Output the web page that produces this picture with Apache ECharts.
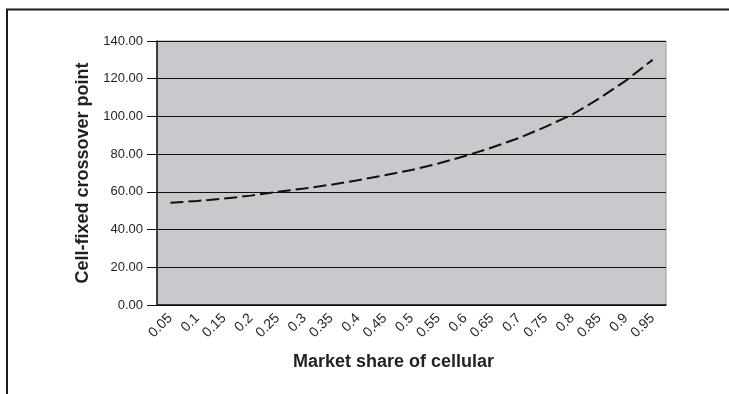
<!DOCTYPE html>
<html>
<head>
<meta charset="utf-8">
<script src="https://cdn.jsdelivr.net/npm/echarts@6/dist/echarts.min.js"></script>
<style>
html,body{margin:0;padding:0;background:#fff;}
#c{width:729px;height:394px;}
</style>
</head>
<body>
<div id="c"></div>
<script>
const categories = ['0.05','0.1','0.15','0.2','0.25','0.3','0.35','0.4','0.45','0.5','0.55','0.6','0.65','0.7','0.75','0.8','0.85','0.9','0.95'];
const crossover = [54.2,55.2,56.4,58.0,60.0,61.8,63.8,66.2,68.8,71.6,75.0,79.0,83.5,88.5,94.5,101.0,109.5,119.0,130.0];
const yTicks = {min: 0, max: 140, interval: 20};
const xTitle = 'Market share of cellular';
const yTitle = 'Cell-fixed crossover point';

const FONT = '"Liberation Sans", Arial, sans-serif';
const TXT = '#231F20';
const chart = echarts.init(document.getElementById('c'), null, {renderer: 'canvas'});
chart.setOption({
  animation: false,
  backgroundColor: '#fff',
  textStyle: {fontFamily: FONT},
  graphic: [{
    type: 'rect', silent: true, z: 100,
    shape: {x: 7, y: 9.5, width: 760, height: 420},
    style: {fill: 'none', stroke: '#1a1a1a', lineWidth: 2}
  }],
  grid: {
    left: 157, top: 41, right: 63, bottom: 89,
    show: true, backgroundColor: '#C8C9CD', borderColor: '#999', borderWidth: 1
  },
  xAxis: {
    type: 'category',
    data: categories,
    boundaryGap: true,
    axisLine: {lineStyle: {color: '#111', width: 1.5}},
    axisTick: {show: false},
    axisLabel: {rotate: 45, fontSize: 14, color: TXT, fontFamily: FONT, margin: 11, interval: 0},
    name: xTitle,
    nameLocation: 'middle',
    nameGap: 48,
    nameTextStyle: {fontSize: 18, fontWeight: 'bold', color: TXT, fontFamily: FONT, padding: [0, 36, 0, 0]}
  },
  yAxis: {
    type: 'value',
    min: yTicks.min, max: yTicks.max, interval: yTicks.interval,
    axisLine: {show: true, lineStyle: {color: '#111', width: 1.5}},
    axisTick: {show: true, length: 10, lineStyle: {color: '#111'}},
    axisLabel: {fontSize: 13, color: TXT, fontFamily: FONT, margin: 14, formatter: v => v.toFixed(2)},
    splitLine: {show: true, lineStyle: {color: '#111', width: 1.2}},
    name: yTitle,
    nameLocation: 'middle',
    nameGap: 60,
    nameTextStyle: {fontSize: 18, fontWeight: 'bold', color: TXT, fontFamily: FONT}
  },
  series: [{
    type: 'line',
    data: crossover,
    symbol: 'none',
    smooth: false,
    lineStyle: {color: '#111', width: 2, type: [13, 5]}
  }]
});
</script>
</body>
</html>
